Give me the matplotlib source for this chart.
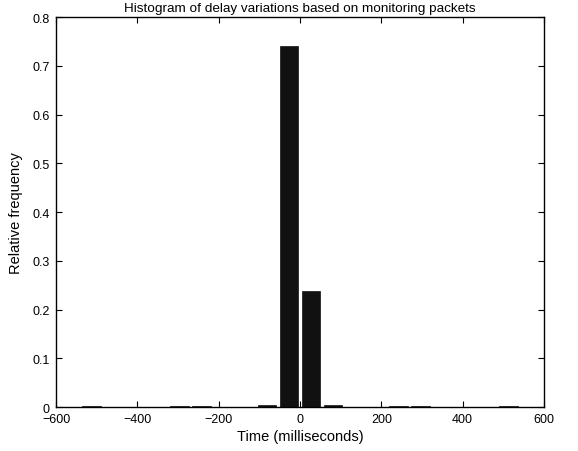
import matplotlib
matplotlib.use("Agg")
import matplotlib.pyplot as plt
import numpy as np

plt.rcParams['font.family'] = ['Liberation Sans', 'DejaVu Sans']

bin_centers = [-513, -459, -405, -351, -297, -243, -189, -135, -81, -27,
               27, 81, 135, 189, 243, 297, 351, 405, 459, 513]
rel_freq = [0.002, 0.0005, 0.0005, 0.0005, 0.002, 0.002, 0.0005, 0.0005, 0.004, 0.74,
            0.237, 0.004, 0.0005, 0.0005, 0.002, 0.002, 0.0005, 0.0005, 0.0005, 0.002]
x_ticks = [-600, -400, -200, 0, 200, 400, 600]
y_ticks = [0, 0.1, 0.2, 0.3, 0.4, 0.5, 0.6, 0.7, 0.8]

fig = plt.figure(figsize=(5.78, 4.52), dpi=100)
ax = fig.add_axes([0.0969, 0.0973, 0.8443, 0.8628])
ax.bar(bin_centers, rel_freq, width=46, color='#111111', edgecolor='#111111', linewidth=0.5)
ax.set_xlim(-600, 600)
ax.set_ylim(0, 0.8)
ax.set_xticks(x_ticks)
ax.set_yticks(y_ticks)
ax.set_yticklabels(['0', '0.1', '0.2', '0.3', '0.4', '0.5', '0.6', '0.7', '0.8'])
ax.tick_params(direction='in', top=True, right=True, labelsize=9, length=4, width=0.8, pad=4.5)
for s in ax.spines.values():
    s.set_linewidth(1.0)
ax.set_xlabel('Time (milliseconds)', fontsize=10.5, labelpad=3)
ax.set_ylabel('Relative frequency', fontsize=10.5, labelpad=7)
ax.set_title('Histogram of delay variations based on monitoring packets', fontsize=9.7, pad=4.5)
fig.savefig('out.png', dpi=100)
